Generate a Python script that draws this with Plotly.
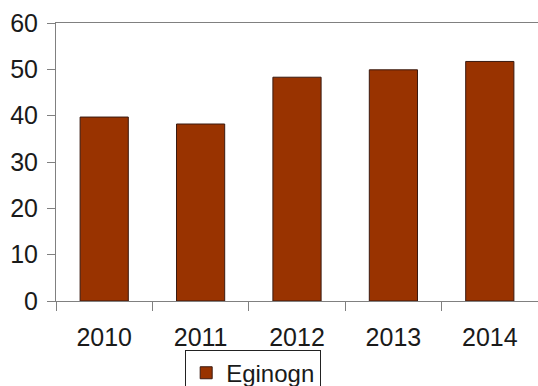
import plotly.graph_objects as go

years = ["2010", "2011", "2012", "2013", "2014"]
values = [39.7, 38.2, 48.3, 49.9, 51.7]
series_name = "Eginogn"

fig = go.Figure()
fig.add_trace(go.Bar(
    x=years, y=values, name=series_name,
    marker=dict(color="#993300", line=dict(color="#3a1a10", width=1)),
    showlegend=True,
))

font_family = "Liberation Sans, Arial, sans-serif"
fig.update_layout(
    width=538, height=386,
    margin=dict(l=56, r=0, t=23, b=85, autoexpand=False),
    paper_bgcolor="white", plot_bgcolor="white",
    bargap=0.5,
    font=dict(family=font_family, size=25, color="#1a1a1a"),
    showlegend=True,
    legend=dict(
        x=0.268, y=-0.175, xanchor="left", yanchor="top",
        bordercolor="#222222", borderwidth=1, bgcolor="white",
        font=dict(size=24, family=font_family, color="#1a1a1a"),
        itemwidth=30, tracegroupgap=0,
    ),
    xaxis=dict(
        type="category", tickson="boundaries", ticks="outside", ticklen=9,
        tickcolor="#808080", showline=True, linecolor="#808080", linewidth=1,
        mirror=True, showgrid=False, ticklabelstandoff=14,
    ),
    yaxis=dict(
        range=[0, 60], dtick=10, ticks="outside", ticklen=8,
        tickcolor="#808080", showline=True, linecolor="#808080", linewidth=1,
        showgrid=False, zeroline=False, ticklabelstandoff=4,
    ),
)

fig.write_html("out.html")
